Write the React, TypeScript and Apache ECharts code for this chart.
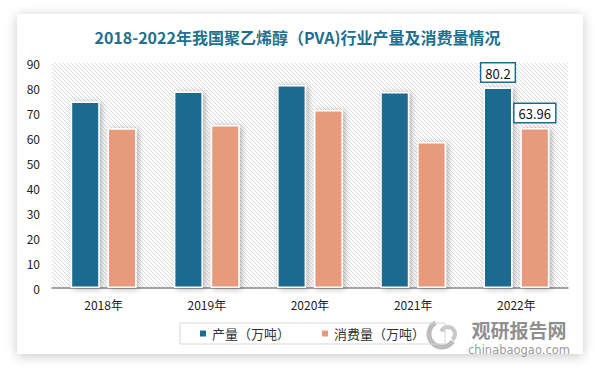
import React, { useEffect, useRef } from "react";
import * as echarts from "echarts";

const years = ["2018年", "2019年", "2020年", "2021年", "2022年"];
const production = [74.6, 78.6, 81.2, 78.4, 80.2];
const consumption = [63.9, 65.2, 71.2, 58.4, 63.96];
const yTicks = { min: 0, max: 90, interval: 10 };
const seriesNames = ["产量（万吨）", "消费量（万吨）"];

const BLUE = "#1c6b8f";
const ORANGE = "#e79b7c";
const FONT = "'Noto Sans CJK SC', 'Noto Sans', sans-serif";

function hatch(): string {
  const c = document.createElement("canvas");
  c.width = 4;
  c.height = 4;
  const ctx = c.getContext("2d")!;
  ctx.fillStyle = "#ffffff";
  ctx.fillRect(0, 0, 4, 4);
  ctx.strokeStyle = "#dadada";
  ctx.lineWidth = 1;
  ctx.beginPath();
  ctx.moveTo(-1, -1);
  ctx.lineTo(5, 5);
  ctx.moveTo(-1, 3);
  ctx.lineTo(1, 5);
  ctx.moveTo(3, -1);
  ctx.lineTo(5, 1);
  ctx.stroke();
  return c.toDataURL();
}

const labelStyle = {
  show: true,
  position: "top",
  distance: 6,
  color: "#111",
  fontSize: 13,
  fontFamily: FONT,
  backgroundColor: "#fff",
  borderColor: BLUE,
  borderWidth: 1.5,
  padding: [3, 4, 2, 4],
};

function withLastLabel(values: number[]) {
  return values.map((v, i) =>
    i === values.length - 1 ? { value: v, label: labelStyle } : { value: v }
  );
}

export default function App() {
  const ref = useRef<HTMLDivElement>(null);
  useEffect(() => {
    const chart = echarts.init(ref.current!, null, { renderer: "svg" });
    const pattern = { image: hatch(), repeat: "repeat" } as any;
    const barStyle = (color: string) => ({
      color,
      borderColor: "#fff",
      borderWidth: 1.5,
      shadowBlur: 6,
      shadowColor: "rgba(0,0,0,0.3)",
      shadowOffsetX: 2,
      shadowOffsetY: 1,
    });
    chart.setOption({
      animation: false,
      backgroundColor: "#fff",
      title: {
        text: "2018-2022年我国聚乙烯醇（PVA)行业产量及消费量情况",
        left: "center",
        top: 24,
        textStyle: { color: "#236f8f", fontSize: 16, fontWeight: "bold", fontFamily: FONT },
      },
      graphic: [
        {
          type: "rect",
          z: -10,
          silent: true,
          shape: { x: 17, y: 14, width: 566, height: 340 },
          style: { fill: "#fff", shadowBlur: 12, shadowColor: "rgba(0,0,0,0.22)", shadowOffsetY: 2 },
        },
        {
          type: "rect",
          z: -5,
          silent: true,
          shape: { x: 52, y: 63, width: 516, height: 225 },
          style: { fill: pattern },
        },
        {
          type: "arc",
          silent: true,
          shape: { cx: 442, cy: 334, r: 13, startAngle: 0.6, endAngle: 4.2 },
          style: { stroke: "#bdbdbd", lineWidth: 5, fill: "none" },
        },
        {
          type: "arc",
          silent: true,
          shape: { cx: 448, cy: 334, r: 7, startAngle: 3.5, endAngle: 7.2 },
          style: { stroke: "#c8c8c8", lineWidth: 4, fill: "none" },
        },
        {
          type: "text",
          silent: true,
          x: 519,
          y: 329,
          style: {
            text: "观研报告网",
            fontSize: 19,
            fontWeight: "bold",
            fill: "#8f8f8f",
            fontFamily: FONT,
            align: "center",
            verticalAlign: "middle",
          },
        },
        {
          type: "text",
          silent: true,
          x: 519,
          y: 350,
          style: {
            text: "chinabaogao.com",
            fontSize: 11.5,
            fill: "#9a9a9a",
            fontFamily: "'DejaVu Sans', sans-serif",
            align: "center",
            verticalAlign: "middle",
          },
        },
      ],
      legend: {
        data: seriesNames,
        left: 180,
        top: 323,
        itemWidth: 8,
        itemHeight: 8,
        icon: "rect",
        itemGap: 30,
        padding: [4, 20, 4, 18],
        borderColor: "#d6d6d6",
        borderWidth: 1,
        textStyle: { color: "#333", fontSize: 13, fontFamily: FONT },
      },
      grid: { left: 52, right: 27, top: 63, bottom: 80 },
      xAxis: {
        type: "category",
        data: years,
        axisLine: { lineStyle: { color: "#888", width: 1.5 } },
        axisTick: { show: false },
        axisLabel: { color: "#222", fontSize: 12, margin: 10, fontFamily: FONT },
      },
      yAxis: {
        type: "value",
        min: yTicks.min,
        max: yTicks.max,
        interval: yTicks.interval,
        axisLine: { show: false },
        axisTick: { show: false },
        splitLine: { show: false },
        axisLabel: { color: "#222", fontSize: 12, margin: 12, fontFamily: FONT },
      },
      series: [
        {
          name: seriesNames[0],
          type: "bar",
          data: withLastLabel(production),
          barWidth: 29,
          barGap: "27%",
          itemStyle: barStyle(BLUE),
        },
        {
          name: seriesNames[1],
          type: "bar",
          data: withLastLabel(consumption),
          barWidth: 29,
          itemStyle: barStyle(ORANGE),
        },
      ],
    });
    return () => chart.dispose();
  }, []);
  return <div ref={ref} style={{ width: 595, height: 368, position: "absolute", left: 0, top: 0 }} />;
}
